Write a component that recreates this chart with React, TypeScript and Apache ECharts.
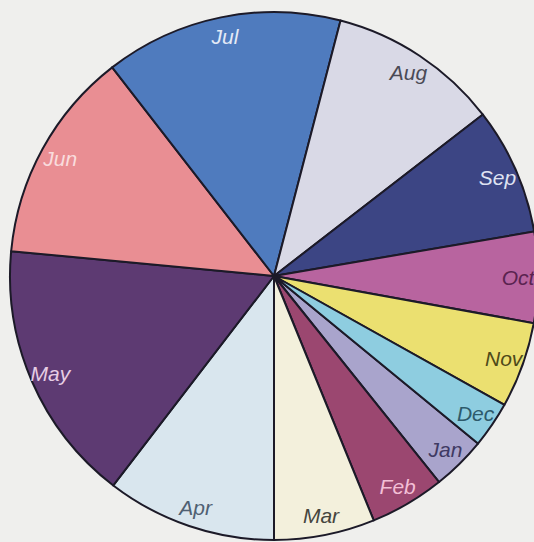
import React, { useEffect, useRef } from "react";
import * as echarts from "echarts";

const months = ["Jan", "Feb", "Mar", "Apr", "May", "Jun", "Jul", "Aug", "Sep", "Oct", "Nov", "Dec"];
const values = [11.9, 16.5, 22.2, 37.5, 57.9, 46.8, 52.4, 37.7, 28.0, 20.0, 18.9, 10.2];
const sliceColors = [
  "#a9a4cc", "#9b4770", "#f3f0dc", "#d9e6ee", "#5d3a72", "#e98e93",
  "#4f7bbe", "#d9d9e6", "#3c4584", "#b8649f", "#ebe070", "#8ecde0",
];
const labelColors = [
  "#3f3a63", "#f3bfd6", "#45453e", "#4f6072", "#e6cde4", "#f9dcdd",
  "#e4eaf6", "#4a4a55", "#dfe2f2", "#5a2350", "#4e4a1a", "#2d5a6b",
];

export default function App() {
  const ref = useRef<HTMLDivElement>(null);
  useEffect(() => {
    if (!ref.current) return;
    const chart = echarts.init(ref.current, undefined, { renderer: "svg" });
    const sliceData = months.map((m, i) => ({
      name: m,
      value: values[i],
      itemStyle: { color: sliceColors[i] },
    }));
    const labelData = months.map((m, i) => ({
      name: m,
      value: values[i],
      label: { color: labelColors[i] },
    }));
    chart.setOption({
      animation: false,
      backgroundColor: "#efefed",
      series: [
        {
          type: "pie",
          center: [274, 276],
          radius: [0, 264],
          startAngle: 320.6,
          clockwise: true,
          silent: true,
          label: { show: false },
          labelLine: { show: false },
          itemStyle: { borderColor: "#1c1a28", borderWidth: 2 },
          emphasis: { disabled: true },
          data: sliceData,
        },
        {
          type: "pie",
          center: [274, 276],
          radius: [218, 264],
          startAngle: 320.6,
          clockwise: true,
          silent: true,
          itemStyle: { color: "rgba(0,0,0,0)", borderWidth: 0 },
          label: {
            show: true,
            position: "inside",
            formatter: "{b}",
            fontFamily: "Liberation Sans, Arial, sans-serif",
            fontStyle: "italic",
            fontSize: 21,
          },
          labelLine: { show: false },
          emphasis: { disabled: true },
          data: labelData,
        },
      ],
    });
    return () => chart.dispose();
  }, []);
  return (
    <div
      ref={ref}
      style={{ position: "fixed", left: 0, top: 0, width: 534, height: 542 }}
    />
  );
}
